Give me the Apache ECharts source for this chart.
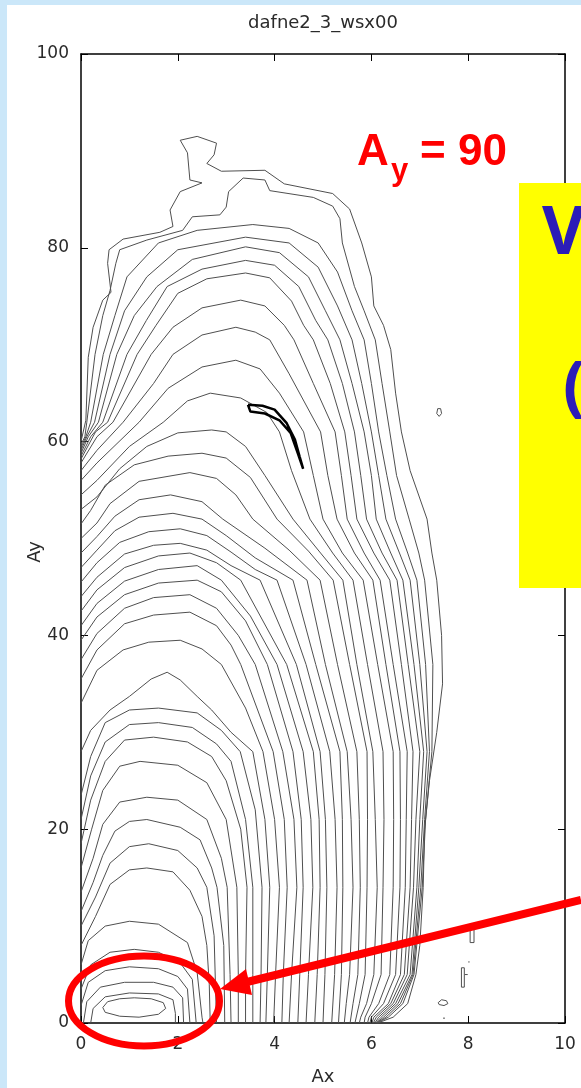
<!DOCTYPE html>
<html><head><meta charset="utf-8">
<script src="https://cdn.jsdelivr.net/npm/echarts/dist/echarts.min.js"></script>
<style>
html,body{margin:0;padding:0;background:#cbe7f9;overflow:hidden;}
#panel{position:absolute;left:7px;top:5px;width:574px;height:1083px;background:#ffffff;}
#c{position:absolute;left:0;top:0;width:581px;height:1088px;}
</style>
</head><body><div id="panel"></div><div id="c"></div>
<script>
// ---- axis ticks ----
const xTicks = [0, 2, 4, 6, 8, 10];
const yTicks = [0, 20, 40, 60, 80, 100];

// ---- contour lines (flat x,y pairs) ----
const innerContours = [
  [0.45,1.6, 0.55,2.2, 0.8,2.5, 1.1,2.6, 1.45,2.5, 1.7,2.1, 1.75,1.5, 1.6,0.9, 1.2,0.6, 0.8,0.7, 0.5,1.1, 0.45,1.6],
  [0.2,0, 0.25,1.5, 0.5,2.7, 1.0,3.1, 1.6,3.0, 1.9,2.4, 1.95,1.0, 1.95,0],
  [0.05,0, 0.12,2.2, 0.4,3.7, 0.9,4.2, 1.5,4.2, 1.9,3.7, 2.1,2.6, 2.12,0],
  [0,1.8, 0.15,4.2, 0.5,5.4, 1.0,5.8, 1.6,5.6, 2.0,4.8, 2.2,3.5, 2.25,0],
  [0,3.5, 0.2,6.0, 0.6,7.3, 1.1,7.6, 1.6,7.3, 2.05,6.2, 2.3,4.5, 2.38,0],
  [0,6.0, 0.15,8.5, 0.5,10.0, 1.0,10.5, 1.6,10.2, 2.2,8.3, 2.4,5.2, 2.5,0.6, 2.52,0],
  [0,8, 0.3,11, 0.6,14.3, 1.0,15.8, 1.36,16, 1.9,15.6, 2.25,13.7, 2.5,11, 2.6,8, 2.65,4, 2.67,0],
  [0,10, 0.3,13, 0.6,16.5, 1.0,18.2, 1.4,18.5, 2.0,17.8, 2.4,16, 2.6,14, 2.75,9, 2.8,0],
  [0,11.5, 0.25,14.5, 0.45,17.3, 0.7,19.8, 1.0,20.8, 1.36,21, 2.05,20.2, 2.46,18.9, 2.7,16, 2.81,14, 2.95,8, 2.97,0],
  [0,13.5, 0.25,17, 0.45,20.5, 0.8,22.8, 1.36,23.3, 2.0,23, 2.6,21, 2.9,17, 3.02,14, 3.08,5, 3.1,0],
  [0,16, 0.22,20, 0.45,24, 0.8,26.5, 1.22,27, 2.0,26.6, 2.6,24.8, 3.0,21, 3.22,14, 3.25,5, 3.25,0],
  [0,18.5, 0.2,23, 0.5,27, 0.9,29.2, 1.5,29.5, 2.2,29, 2.7,27.5, 3.0,25, 3.3,20, 3.43,14, 3.4,5, 3.4,0],
  [0,21, 0.2,25.5, 0.5,29, 1.0,30.8, 1.6,31, 2.3,30.5, 2.8,28.8, 3.1,27, 3.4,21, 3.55,14, 3.55,5, 3.55,0],
  [0,23.5, 0.2,27.5, 0.5,31, 1.0,32.3, 1.6,32.5, 2.4,32, 2.9,30.2, 3.29,28, 3.6,22, 3.74,14, 3.72,5, 3.7,0]
];
const middleContours = [
  [0,28, 0.2,30.2, 0.6,32.3, 1.0,33.7, 1.45,35.5, 1.78,36.2, 2.05,35.4, 2.4,33.7, 2.7,32.3, 3.1,30, 3.55,28, 3.8,21, 3.9,14, 3.85,5, 3.82,0],
  [0,33, 0.33,36.4, 0.87,38.5, 1.4,39.3, 2.05,39.5, 2.5,38.6, 2.9,37, 3.4,32.5, 3.76,28, 4.0,21, 4.1,14, 4.02,5, 3.98,0],
  [0,35.5, 0.33,38.5, 0.9,41.2, 1.5,42.1, 2.25,42.4, 2.8,41, 3.1,39, 3.3,37, 3.97,28, 4.2,21, 4.26,14, 4.18,5, 4.15,0],
  [0,37.5, 0.33,40.2, 0.9,42.8, 1.5,43.9, 2.25,44.2, 2.8,42.8, 3.25,40, 3.6,37, 4.17,28, 4.4,21, 4.46,14, 4.35,5, 4.3,0],
  [0,39.5, 0.33,41.9, 0.9,44.2, 1.6,45.4, 2.4,45.7, 2.9,44.5, 3.4,41.5, 3.85,37, 4.38,28, 4.55,21, 4.59,14, 4.52,5, 4.48,0],
  [0,41, 0.33,43.3, 0.9,45.6, 1.6,46.8, 2.4,47.2, 2.9,45.7, 3.5,42, 4.05,37, 4.59,28, 4.75,21, 4.79,14, 4.7,5, 4.65,0],
  [0,42.5, 0.33,44.7, 0.9,47, 1.6,48.2, 2.25,48.5, 2.8,47.5, 3.3,45.7, 4.25,37, 4.8,28, 4.92,21, 4.94,14, 4.88,5, 4.83,0],
  [0,44, 0.33,46, 0.9,48.4, 1.5,49.3, 2.05,49.5, 2.6,48.8, 3.1,47.2, 3.7,45.7, 4.45,37, 4.94,28, 5.05,21, 5.08,14, 5.04,5, 5.0,0],
  [0,45.5, 0.33,47.5, 0.8,49.6, 1.4,50.7, 2.05,51, 2.6,50.3, 3.1,48.6, 3.6,46.8, 4.05,45.7, 4.65,37, 5.14,28, 5.25,21, 5.29,14, 5.24,5, 5.18,0],
  [0,47, 0.33,48.8, 0.7,50.8, 1.2,52.2, 1.9,52.6, 2.5,52, 3.0,50.3, 3.6,48, 4.38,45.7, 4.85,37, 5.35,28, 5.4,21, 5.41,14, 5.38,5, 5.32,0],
  [0,48.5, 0.33,50.2, 0.7,52.3, 1.2,54, 1.85,54.5, 2.5,53.8, 2.93,52, 3.8,49, 4.67,45.7, 5.05,37, 5.5,28, 5.58,21, 5.62,14, 5.55,5, 5.48,2, 5.44,0],
  [0,50, 0.33,51.6, 0.6,53.6, 1.2,55.9, 2.25,56.8, 2.8,56.2, 3.2,54.5, 3.55,52, 4.3,48.8, 4.94,45.7, 5.3,37, 5.7,28, 5.75,21, 5.77,14, 5.72,5, 5.62,2, 5.56,0],
  [0,51.5, 0.2,52.9, 0.5,55.5, 1.1,57.6, 1.8,58.5, 2.5,58.8, 3.0,58.3, 3.5,56.3, 4.05,52, 4.7,48.7, 5.21,45.7, 5.55,37, 5.91,28, 5.92,21, 5.91,14, 5.87,5, 5.75,2, 5.66,0],
  [0,53, 0.33,54.3, 0.8,57.2, 1.36,59.5, 2.0,60.9, 2.7,61.2, 3.0,61, 3.4,59.5, 3.8,56.5, 4.38,52, 4.95,48.5, 5.41,45.7, 5.7,37, 6.03,28, 6.08,21, 6.12,14, 6.05,5, 5.9,2, 5.78,0.6, 5.75,0]
];
const outerContours = [
  [0,54.5, 0.33,56, 1.0,59.5, 1.7,62, 2.2,64.2, 2.67,65, 3.3,64.5, 3.84,63, 4.1,61, 4.35,57, 4.73,52, 5.2,48.5, 5.62,45.7, 5.92,37, 6.24,28, 6.26,21, 6.24,14, 6.2,5, 6.0,2, 5.87,0.6, 5.85,0],
  [0,56, 0.33,57.8, 1.2,62, 1.8,65.5, 2.5,67.7, 3.2,68.4, 3.7,67.5, 4.1,65, 4.6,61, 4.8,56.5, 5.0,52, 5.4,48.5, 5.83,45.7, 6.13,37, 6.45,28, 6.46,21, 6.45,14, 6.38,5, 6.15,2, 5.95,0.6, 5.92,0],
  [0,57, 0.33,59.1, 0.87,62, 1.5,66, 1.9,69, 2.5,71, 3.2,71.8, 3.6,71.3, 3.9,70.5, 4.3,67, 4.95,61, 5.1,56.5, 5.29,52, 5.65,48.5, 6.03,45.7, 6.3,37, 6.59,28, 6.6,21, 6.59,14, 6.5,5, 6.25,2, 6.0,0.6, 5.97,0],
  [0,57.8, 0.33,60.5, 0.66,62, 1.45,69, 1.9,71.8, 2.5,73.8, 3.3,74.6, 3.8,74, 4.2,72, 4.4,70.5, 4.8,66, 5.25,61, 5.38,56.5, 5.5,52, 5.85,48.5, 6.18,45.7, 6.45,37, 6.74,28, 6.72,21, 6.7,14, 6.6,5, 6.35,2, 6.05,0.6, 6.01,0],
  [0,58.2, 0.3,61, 0.55,62, 1.16,69, 1.55,72, 2.0,75.3, 2.6,76.8, 3.4,77.4, 3.9,76.9, 4.35,74.5, 4.6,72, 4.8,70.5, 5.15,66, 5.45,61, 5.58,56.5, 5.7,52, 6.05,48.5, 6.38,45.7, 6.62,37, 6.86,28, 6.83,21, 6.8,14, 6.68,5, 6.4,2, 6.1,0.6, 6.04,0],
  [0,58.5, 0.2,60.5, 0.45,62, 0.95,69, 1.35,72.5, 1.78,76, 2.5,77.8, 3.4,78.7, 4.0,78.2, 4.5,76, 4.85,72.5, 5.1,70.5, 5.4,66, 5.65,61, 5.78,56.5, 5.9,52, 6.22,48.5, 6.53,45.7, 6.76,37, 7.0,28, 6.92,21, 6.87,14, 6.74,5, 6.45,2, 6.15,0.6, 6.07,0],
  [0,58.8, 0.15,60.5, 0.36,62, 0.74,69, 1.1,73, 1.57,76, 2.3,78.8, 3.4,80.1, 4.1,79.5, 4.7,77, 5.05,73.5, 5.35,70.5, 5.6,66, 5.85,61, 6.0,56.5, 6.1,52, 6.4,48.5, 6.65,45.7, 6.88,37, 7.08,28, 7.0,21, 6.94,14, 6.8,5, 6.5,2, 6.2,0.6, 6.09,0],
  [0,59.1, 0.12,60.5, 0.28,62, 0.6,69, 0.9,73.5, 1.36,77, 2.0,79.8, 3.4,81.1, 4.3,80.5, 4.9,78, 5.3,74, 5.6,70.5, 5.8,66, 6.0,61, 6.15,56.5, 6.3,52, 6.58,48.5, 6.8,45.7, 7.0,37, 7.15,28, 7.06,21, 6.98,14, 6.84,5, 6.55,2, 6.25,0.6, 6.1,0],
  [0,59.4, 0.1,60.5, 0.2,62, 0.46,69, 0.7,73, 0.95,77, 1.6,80.5, 2.4,81.8, 3.55,82.4, 4.3,82, 4.9,80.5, 5.3,77.5, 5.6,73.5, 5.85,70.5, 6.0,66, 6.15,61, 6.32,56.5, 6.5,52, 6.75,48.5, 6.94,45.7, 7.12,37, 7.2,28, 7.1,21, 7.02,14, 6.86,5, 6.6,2, 6.3,0.6, 6.11,0],
  [0,59.7, 0.08,60.5, 0.12,62, 0.29,69, 0.45,73, 0.6,75.6, 0.72,78.4, 0.8,79.8, 1.36,80.8, 2.1,81.8, 2.3,83.2, 2.87,83.4, 3.0,84.2, 3.05,85.8, 3.35,87.2, 3.8,87.0, 3.9,85.9, 4.8,85.2, 5.2,84.3, 5.35,83, 5.4,80.5, 5.65,76, 5.85,73.5, 6.08,70.5, 6.22,66, 6.38,61, 6.52,56.5, 6.78,52, 6.98,48.5, 7.1,45.7, 7.27,37, 7.25,28, 7.12,21, 7.05,14, 6.88,5, 6.65,2, 6.35,0.6, 6.12,0],
  [0,60, 0.1,62.2, 0.15,68.7, 0.25,71.8, 0.45,74.6, 0.62,75.4, 0.55,78.4, 0.58,79.8, 0.87,80.9, 1.63,81.6, 1.9,82.2, 1.84,83.9, 2.05,85.8, 2.5,86.7, 2.25,87.0, 2.2,89.8, 2.05,91.1, 2.4,91.5, 2.8,90.8, 2.75,89.6, 2.6,88.7, 2.9,87.9, 3.8,88.0, 4.2,86.6, 5.2,85.6, 5.55,84, 5.8,80.5, 6.0,77, 6.05,74, 6.25,72, 6.4,69.5, 6.5,65, 6.62,61, 6.8,57, 7.15,52, 7.25,48.5, 7.35,45.7, 7.45,40, 7.47,35, 7.35,30, 7.2,25, 7.1,20, 7.07,14, 7.0,8, 6.92,5, 6.75,2, 6.45,0.6, 6.13,0]
];
const islandContour = [3.45,63.8, 3.75,63.7, 4.0,63.3, 4.25,61.9, 4.42,60.2, 4.52,58.4, 4.59,57.2, 4.48,58.8, 4.33,60.9, 4.1,62.2, 3.8,62.9, 3.5,63.1, 3.45,63.8];
const strayMarks = [
  [7.37,63.4, 7.43,63.4, 7.45,62.9, 7.4,62.6, 7.35,62.9, 7.37,63.4],
  [8.04,8.3, 8.12,8.3, 8.12,9.8, 8.04,9.8, 8.04,8.3],
  [7.86,3.7, 7.92,3.7, 7.92,5.7, 7.86,5.7, 7.86,3.7],
  [7.93,5.0, 7.99,5.0],
  [8.0,6.3, 8.03,6.3],
  [7.38,2.1, 7.45,2.4, 7.55,2.3, 7.58,2.0, 7.5,1.8, 7.4,1.9, 7.38,2.1],
  [7.48,0.5, 7.52,0.5]
];

function toPairs(flat) {
  const p = [];
  for (let i = 0; i < flat.length; i += 2) p.push([flat[i], flat[i + 1]]);
  return p;
}

const series = [];
function addLines(list, color, width) {
  list.forEach(function (flat) {
    series.push({
      type: 'line', data: toPairs(flat), showSymbol: false, symbol: 'none',
      lineStyle: { color: color, width: width }, silent: true, animation: false, z: 2
    });
  });
}
addLines(innerContours, '#4f4f4f', 1);
addLines(middleContours, '#4f4f4f', 1);
addLines(outerContours, '#4f4f4f', 1);
addLines(strayMarks, '#4f4f4f', 1);
addLines([islandContour], '#000000', 2.5);

const labelStyle = { fontSize: 17, fontFamily: 'DejaVu Sans', color: '#2a2a2a' };
const lineStyleFrame = { color: '#000', width: 1.5 };

function xAx(pos, showLabel) {
  return {
    type: 'value', position: pos, min: xTicks[0], max: xTicks[xTicks.length - 1], interval: xTicks[1] - xTicks[0],
    axisLine: { show: true, onZero: false, lineStyle: lineStyleFrame },
    axisTick: { show: true, inside: true, length: 7, lineStyle: { color: '#000', width: 1 } },
    axisLabel: Object.assign({ show: showLabel, margin: 13 }, labelStyle),
    splitLine: { show: false }
  };
}
function yAx(pos, showLabel) {
  return {
    type: 'value', position: pos, min: yTicks[0], max: yTicks[yTicks.length - 1], interval: yTicks[1] - yTicks[0],
    axisLine: { show: true, onZero: false, lineStyle: lineStyleFrame },
    axisTick: { show: true, inside: true, length: 7, lineStyle: { color: '#000', width: 1 } },
    axisLabel: Object.assign({ show: showLabel, margin: 12 }, labelStyle),
    splitLine: { show: false }
  };
}

const chart = echarts.init(document.getElementById('c'), null, { renderer: 'canvas' });
chart.setOption({
  animation: false,
  grid: { left: 81, top: 54, right: 16, bottom: 65 },
  xAxis: [xAx('bottom', true), xAx('top', false)],
  yAxis: [yAx('left', true), yAx('right', false)],
  series: series,
  graphic: [
    { type: 'text', x: 323, y: 23, style: { text: 'dafne2_3_wsx00', fontSize: 18, fontFamily: 'DejaVu Sans', fill: '#2a2a2a', align: 'center', verticalAlign: 'middle' } },
    { type: 'text', x: 323, y: 1077, style: { text: 'Ax', fontSize: 18, fontFamily: 'DejaVu Sans', fill: '#2a2a2a', align: 'center', verticalAlign: 'middle' } },
    { type: 'text', x: 35, y: 552, rotation: Math.PI / 2, style: { text: 'Ay', fontSize: 18, fontFamily: 'DejaVu Sans', fill: '#2a2a2a', align: 'center', verticalAlign: 'middle' } },
    { type: 'rect', z: 99, shape: { x: 519, y: 183, width: 62, height: 405 }, style: { fill: '#ffff00' } },
    { type: 'text', z: 100, x: 542, y: 235, style: { text: 'V', fontSize: 66, fontWeight: 'bold', fontFamily: 'Noto Sans', fill: '#2b1cb8', align: 'left', verticalAlign: 'middle' } },
    { type: 'text', z: 100, x: 563, y: 390, style: { text: '(', fontSize: 66, fontWeight: 'bold', fontFamily: 'Noto Sans', fill: '#2b1cb8', align: 'left', verticalAlign: 'middle' } },
    { type: 'text', z: 100, x: 357, y: 153, style: { text: 'A', fontSize: 44, fontWeight: 'bold', fontFamily: 'Liberation Sans', fill: '#ff0000', align: 'left', verticalAlign: 'middle' } },
    { type: 'text', z: 100, x: 391, y: 171, style: { text: 'y', fontSize: 31, fontWeight: 'bold', fontFamily: 'Liberation Sans', fill: '#ff0000', align: 'left', verticalAlign: 'middle' } },
    { type: 'text', z: 100, x: 420, y: 153, style: { text: '= 90', fontSize: 44, fontWeight: 'bold', fontFamily: 'Liberation Sans', fill: '#ff0000', align: 'left', verticalAlign: 'middle' } },
    { type: 'ellipse', z: 100, shape: { cx: 144, cy: 1001, rx: 75.5, ry: 45 }, style: { fill: 'none', stroke: '#ff0000', lineWidth: 7 } },
    { type: 'line', z: 100, shape: { x1: 581, y1: 900, x2: 247, y2: 982 }, style: { stroke: '#ff0000', lineWidth: 8 } },
    { type: 'polygon', z: 100, shape: { points: [[220, 989], [252, 995], [246, 969]] }, style: { fill: '#ff0000' } }
  ]
});
</script></body></html>
